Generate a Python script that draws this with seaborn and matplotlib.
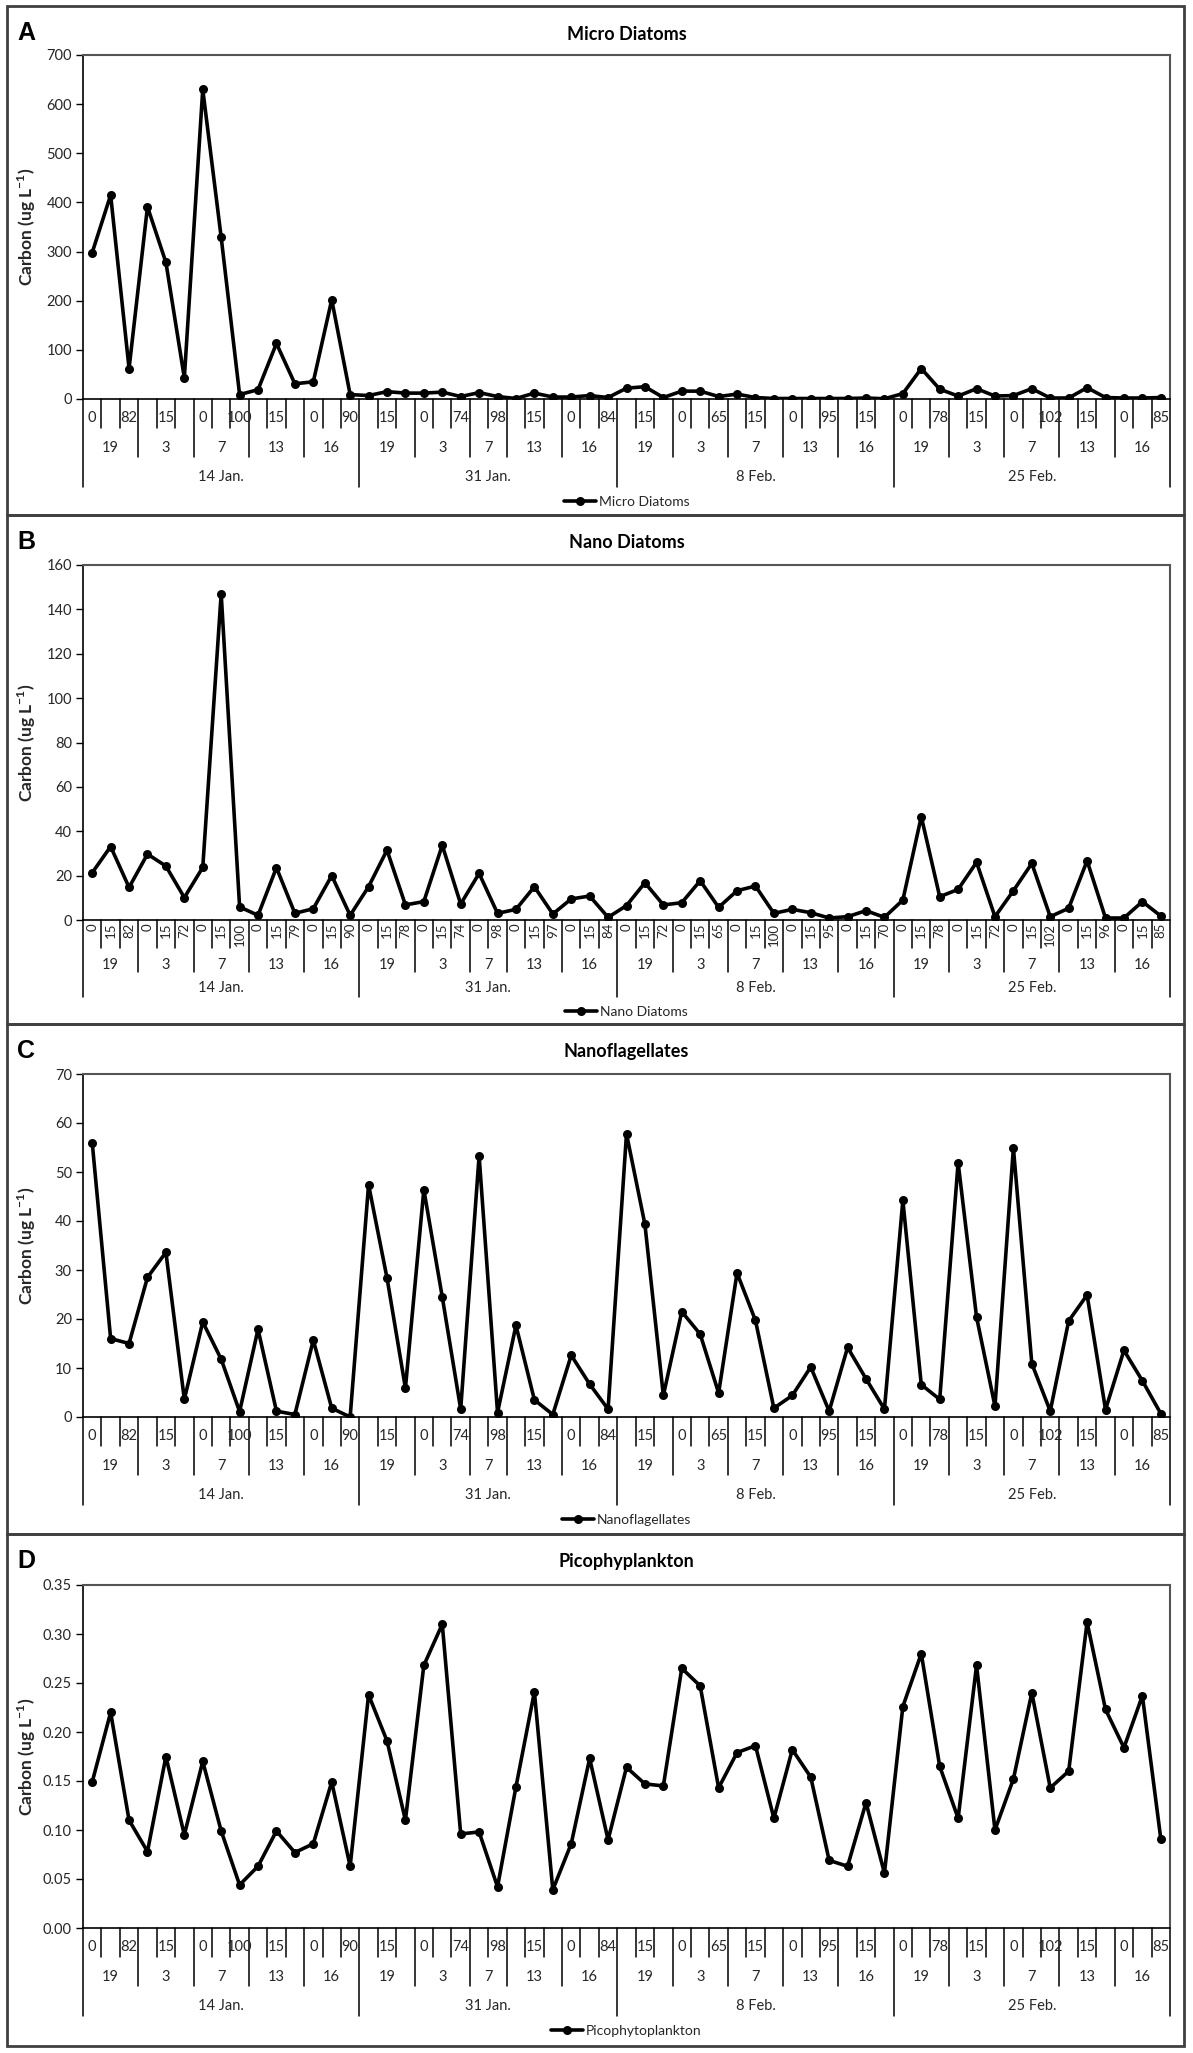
import numpy as np
import pandas as pd
import matplotlib
matplotlib.use("Agg")
import matplotlib.pyplot as plt
import matplotlib.transforms as mtransforms
from matplotlib.patches import Rectangle
from matplotlib.lines import Line2D
import seaborn as sns

# ---------------- data ----------------
date_labels = ["14 Jan.", "31 Jan.", "8 Feb.", "25 Feb."]
station_labels = ["19", "3", "7", "13", "16"]
depth_labels = [
    [["0", "15", "82"], ["0", "15", "72"], ["0", "15", "100"], ["0", "15", "79"], ["0", "15", "90"]],
    [["0", "15", "78"], ["0", "15", "74"], ["0", "98"], ["0", "15", "97"], ["0", "15", "84"]],
    [["0", "15", "72"], ["0", "15", "65"], ["0", "15", "100"], ["0", "15", "95"], ["0", "15", "70"]],
    [["0", "15", "78"], ["0", "15", "72"], ["0", "15", "102"], ["0", "15", "96"], ["0", "15", "85"]],
]

micro_diatoms = [298, 415, 62, 391, 278, 43, 630, 329, 9, 19, 113, 31, 35, 202, 9,
                 7, 15, 12, 12, 14, 5, 13, 5, 1, 12, 4, 4, 7, 3,
                 22, 25, 3, 16, 16, 5, 10, 3, 1, 1, 1, 1, 1, 2, 0.5,
                 11, 62, 20, 6, 21, 6, 7, 21, 2, 2, 23, 3, 2, 2, 3]
nano_diatoms = [21.3, 33.1, 14.7, 29.7, 24.3, 10.1, 23.7, 147, 5.9, 2.1, 23.6, 3.0, 5.1, 20.0, 2.1,
                15.0, 31.5, 6.8, 8.3, 33.7, 7.2, 21.0, 3.0, 4.8, 15.0, 2.7, 9.5, 10.8, 1.2,
                6.5, 16.8, 6.8, 7.8, 17.7, 5.7, 13.2, 15.3, 3.0, 4.8, 3.3, 0.9, 1.5, 4.2, 1.2,
                9.0, 46.6, 10.5, 13.8, 26.0, 1.5, 13.2, 25.5, 1.5, 5.3, 26.7, 0.9, 0.9, 8.3, 1.8]
nanoflagellates = [56.0, 16.0, 15.0, 28.5, 33.6, 3.6, 19.4, 11.8, 1.1, 17.9, 1.2, 0.5, 15.7, 1.8, 0.0,
                   47.4, 28.4, 5.9, 46.4, 24.5, 1.6, 53.3, 0.9, 18.7, 3.5, 0.5, 12.6, 6.7, 1.6,
                   57.8, 39.3, 4.4, 21.5, 16.9, 4.9, 29.4, 19.7, 1.8, 4.4, 10.2, 1.2, 14.2, 7.8, 1.6,
                   44.2, 6.6, 3.6, 51.9, 20.4, 2.2, 54.9, 10.9, 1.2, 19.6, 24.9, 1.5, 13.6, 7.4, 0.7]
picophytoplankton = [0.149, 0.220, 0.110, 0.078, 0.175, 0.095, 0.170, 0.099, 0.044, 0.063, 0.099, 0.077, 0.086, 0.149, 0.063,
                     0.238, 0.191, 0.110, 0.268, 0.310, 0.096, 0.098, 0.042, 0.144, 0.241, 0.039, 0.086, 0.173, 0.090,
                     0.164, 0.147, 0.145, 0.265, 0.247, 0.143, 0.179, 0.186, 0.112, 0.182, 0.154, 0.069, 0.063, 0.128, 0.056,
                     0.226, 0.280, 0.165, 0.112, 0.268, 0.100, 0.152, 0.240, 0.143, 0.160, 0.312, 0.223, 0.184, 0.237, 0.091]

panel_letters = ["A", "B", "C", "D"]
panel_titles = ["Micro Diatoms", "Nano Diatoms", "Nanoflagellates", "Picophyplankton"]
legend_labels = ["Micro Diatoms", "Nano Diatoms", "Nanoflagellates", "Picophytoplankton"]
y_max = [700, 160, 70, 0.35]
y_step = [100, 20, 10, 0.05]
y_fmt = ["{:.0f}", "{:.0f}", "{:.0f}", "{:.2f}"]

# build the categorical table
rows = []
for d, date in enumerate(date_labels):
    for s, st in enumerate(station_labels):
        for dep in depth_labels[d][s]:
            rows.append((date, st, dep))
df = pd.DataFrame(rows, columns=["date", "station", "depth"])
df["pos"] = np.arange(len(df))
df["Micro Diatoms"] = micro_diatoms
df["Nano Diatoms"] = nano_diatoms
df["Nanoflagellates"] = nanoflagellates
df["Picophytoplankton"] = picophytoplankton
series_cols = ["Micro Diatoms", "Nano Diatoms", "Nanoflagellates", "Picophytoplankton"]

# ---------------- layout ----------------
sns.set_theme(style="white")
plt.rcParams["font.family"] = ["Lato", "DejaVu Sans"]
plt.rcParams["mathtext.fontset"] = "custom"
plt.rcParams["mathtext.rm"] = "Lato"
plt.rcParams["mathtext.bf"] = "Lato:bold"

W, H = 1193, 2053
fig = plt.figure(figsize=(W / 100, H / 100), dpi=100)
fig.patch.set_facecolor("white")

panel_box = [(6, 515), (515, 1024), (1024, 1534), (1534, 2046)]
plot_tb = [(55, 399), (565, 920), (1074, 1417), (1585, 1928)]
PL, PR = 83, 1170
txt_col = "#262626"

n = len(df)
# boundaries between categories
date_sizes = df.groupby("date", sort=False).size().values
date_bounds = np.concatenate([[0], np.cumsum(date_sizes)]) - 0.5
stn_keys = (df["date"] + "|" + df["station"])
stn_change = np.where(stn_keys.values[1:] != stn_keys.values[:-1])[0] + 0.5

for i in range(4):
    top, bot = plot_tb[i]
    hpx = bot - top
    ax = fig.add_axes([PL / W, 1 - bot / H, (PR - PL) / W, hpx / H])
    col = series_cols[i]
    sns.lineplot(data=df, x="pos", y=col, ax=ax, color="black", linewidth=2.6,
                 marker="o", markersize=6.5, markeredgewidth=0, label=legend_labels[i],
                 sort=False)
    ax.set_xlim(-0.5, n - 0.5)
    ax.set_ylim(0, y_max[i])
    ticks = np.round(np.arange(0, y_max[i] + y_step[i] / 2, y_step[i]), 4)
    ax.set_yticks(ticks)
    ax.set_yticklabels([y_fmt[i].format(t) for t in ticks])
    ax.set_xticks([])
    ax.set_xlabel("")
    ax.set_ylabel("")
    ax.tick_params(axis="y", direction="out", length=5, width=1, color="black",
                   labelsize=10.5, labelcolor=txt_col, pad=3, left=True)
    for sp in ["left", "bottom"]:
        ax.spines[sp].set_color("black")
        ax.spines[sp].set_linewidth(1.2)
    for sp in ["top", "right"]:
        ax.spines[sp].set_color("#555555")
        ax.spines[sp].set_linewidth(1.5)

    trans = mtransforms.blended_transform_factory(ax.transData, ax.transAxes)
    rotated = (i == 1)
    if rotated:
        l_depth, l_stn, l_date = 28, 52, 77
        y_stn_lab, y_date_lab, y_leg = 45, 68, 92
    else:
        l_depth, l_stn, l_date = 29, 58, 88
        y_stn_lab, y_date_lab, y_leg = 49, 78, 103

    def vline(x, length):
        ax.add_line(Line2D([x, x], [0, -length / hpx], transform=trans, color="black",
                           linewidth=1.1, clip_on=False))

    for b in np.arange(-0.5, n, 1.0):
        if np.any(np.isclose(b, date_bounds)):
            vline(b, l_date)
        elif np.any(np.isclose(b, stn_change)):
            vline(b, l_stn)
        else:
            vline(b, l_depth)

    # depth labels
    for p, lab in zip(df["pos"], df["depth"]):
        if rotated:
            ax.text(p, -3 / hpx, lab, transform=trans, rotation=90, ha="center", va="top",
                    fontsize=9.5, color=txt_col)
        elif p % 2 == 0:
            ax.text(p, -19 / hpx, lab, transform=trans, ha="center", va="center",
                    fontsize=10.5, color=txt_col)
    # station labels
    for (date, st), g in df.groupby(["date", "station"], sort=False):
        ax.text(g["pos"].mean(), -y_stn_lab / hpx, st, transform=trans, ha="center",
                va="center", fontsize=10.5, color=txt_col)
    for date, g in df.groupby("date", sort=False):
        ax.text(g["pos"].mean(), -y_date_lab / hpx, date, transform=trans, ha="center",
                va="center", fontsize=10.5, color=txt_col)

    leg = ax.legend(loc="center", bbox_to_anchor=(0.5, -y_leg / hpx), frameon=False,
                    fontsize=10, handlelength=2.3, handletextpad=0.2, borderaxespad=0)
    for t in leg.get_texts():
        t.set_color(txt_col)

    # panel frame, letter, title, y label
    ptop, pbot = panel_box[i]
    fig.add_artist(Rectangle((7 / W, 1 - pbot / H), (1184 - 7) / W, (pbot - ptop) / H,
                             transform=fig.transFigure, fill=False, edgecolor="#404040",
                             linewidth=2))
    fig.text(17 / W, 1 - (ptop + 27) / H, panel_letters[i], fontsize=18, fontweight="bold",
             family=["Liberation Sans", "DejaVu Sans"], ha="left", va="center", color="black")
    fig.text(((PL + PR) / 2) / W, 1 - (ptop + 28) / H, panel_titles[i], fontsize=13,
             fontweight="bold", ha="center", va="center", color="black")
    fig.text(27 / W, 1 - ((top + bot) / 2) / H, r"Carbon (ug L$^{\mathbf{-1}}$)", fontsize=12.5,
             fontweight="bold", rotation=90, ha="center", va="center", color=txt_col)

fig.savefig("out.png", dpi=100, facecolor="white")
